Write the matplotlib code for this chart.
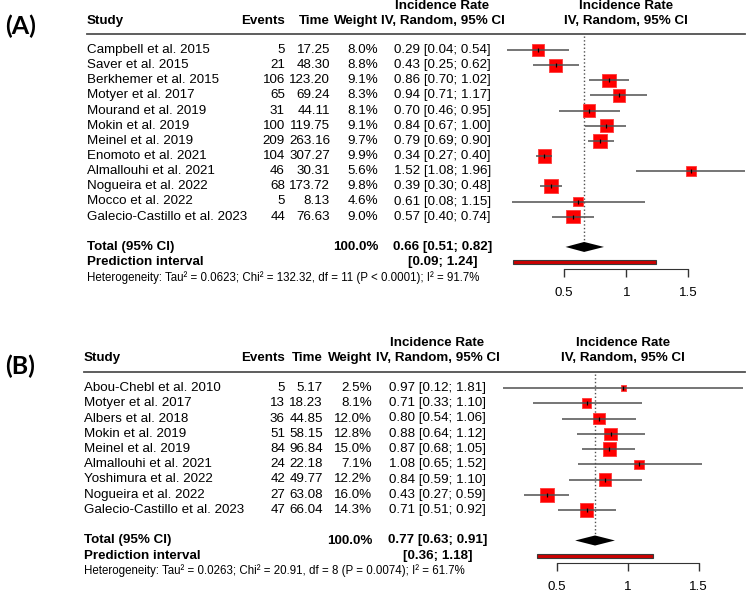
import matplotlib
matplotlib.use("Agg")
import matplotlib.pyplot as plt
import matplotlib.transforms as mtransforms
from matplotlib.lines import Line2D
from matplotlib.patches import Rectangle
import numpy as np

plt.rcParams['font.family'] = ['Liberation Sans', 'DejaVu Sans']

# Panel A data
studies_a = ["Campbell et al. 2015", "Saver et al. 2015", "Berkhemer et al. 2015",
             "Motyer et al. 2017", "Mourand et al. 2019", "Mokin et al. 2019",
             "Meinel et al. 2019", "Enomoto et al. 2021", "Almallouhi et al. 2021",
             "Nogueira et al. 2022", "Mocco et al. 2022", "Galecio-Castillo et al. 2023"]
events_a = [5, 21, 106, 65, 31, 100, 209, 104, 46, 68, 5, 44]
time_a = [17.25, 48.30, 123.20, 69.24, 44.11, 119.75, 263.16, 307.27, 30.31, 173.72, 8.13, 76.63]
weight_a = [8.0, 8.8, 9.1, 8.3, 8.1, 9.1, 9.7, 9.9, 5.6, 9.8, 4.6, 9.0]
rate_a = [0.29, 0.43, 0.86, 0.94, 0.70, 0.84, 0.79, 0.34, 1.52, 0.39, 0.61, 0.57]
lower_a = [0.04, 0.25, 0.70, 0.71, 0.46, 0.67, 0.69, 0.27, 1.08, 0.30, 0.08, 0.40]
upper_a = [0.54, 0.62, 1.02, 1.17, 0.95, 1.00, 0.90, 0.40, 1.96, 0.48, 1.15, 0.74]
total_a = [0.66, 0.51, 0.82]
pred_a = [0.09, 1.24]
het_a = "Heterogeneity: Tau² = 0.0623; Chi² = 132.32, df = 11 (P < 0.0001); I² = 91.7%"

# Panel B data
studies_b = ["Abou-Chebl et al. 2010", "Motyer et al. 2017", "Albers et al. 2018",
             "Mokin et al. 2019", "Meinel et al. 2019", "Almallouhi et al. 2021",
             "Yoshimura et al. 2022", "Nogueira et al. 2022", "Galecio-Castillo et al. 2023"]
events_b = [5, 13, 36, 51, 84, 24, 42, 27, 47]
time_b = [5.17, 18.23, 44.85, 58.15, 96.84, 22.18, 49.77, 63.08, 66.04]
weight_b = [2.5, 8.1, 12.0, 12.8, 15.0, 7.1, 12.2, 16.0, 14.3]
rate_b = [0.97, 0.71, 0.80, 0.88, 0.87, 1.08, 0.84, 0.43, 0.71]
lower_b = [0.12, 0.33, 0.54, 0.64, 0.68, 0.65, 0.59, 0.27, 0.51]
upper_b = [1.81, 1.10, 1.06, 1.12, 1.05, 1.52, 1.10, 0.59, 0.92]
total_b = [0.77, 0.63, 0.91]
pred_b = [0.36, 1.18]
het_b = "Heterogeneity: Tau² = 0.0263; Chi² = 20.91, df = 8 (P = 0.0074); I² = 61.7%"

ticks = [0.5, 1, 1.5]

W, H = 746, 592
fig = plt.figure(figsize=(W / 100, H / 100), dpi=100)


def fx(px):
    return px / W


def fy(py):
    return 1 - py / H


FS = 9.6
GRAY = '#505050'


def draw_panel(label, studies, events, times, weights, rate, lower, upper, total, pred, het, g):
    n = len(studies)
    # forest axes: x in incidence rate units, y in rows
    left = g['ax_l']
    right = 746
    ax = fig.add_axes([fx(left), fy(g['bot']), (right - left) / W, (g['bot'] - g['top']) / H])
    ax.set_xlim((left - g['x0']) / g['ppu'], (right - g['x0']) / g['ppu'])
    ax.set_ylim((g['bot'] - g['row0']) / g['step'], (g['top'] - g['row0']) / g['step'])
    ax.patch.set_alpha(0)
    for s in ['top', 'left', 'right']:
        ax.spines[s].set_visible(False)
    ax.set_yticks([])

    rows = np.arange(n)
    r_tot = n + 1
    r_pred = n + 2
    r_het = n + 3
    r_head = (g['line_y'] - g['row0']) / g['step']

    trans = mtransforms.blended_transform_factory(fig.transFigure, ax.transData)

    # panel label and headers
    fig.text(fx(5), fy(g['label_y']), label, fontsize=18, fontweight='bold',
             family=['Lato', 'DejaVu Sans'], va='center', ha='left')
    hy1, hy2 = fy(g['head1_y']), fy(g['head2_y'])
    fig.text(fx(g['study_x']), hy2, "Study", fontsize=FS, fontweight='bold', va='center')
    fig.text(fx(g['ev_x']), hy2, "Events", fontsize=FS, fontweight='bold', va='center', ha='right')
    fig.text(fx(g['time_x']), hy2, "Time", fontsize=FS, fontweight='bold', va='center', ha='right')
    fig.text(fx(g['w_x']), hy2, "Weight", fontsize=FS, fontweight='bold', va='center', ha='right')
    for cx in (g['ci_c'], g['fp_c']):
        fig.text(fx(cx), hy1, "Incidence Rate", fontsize=FS, fontweight='bold', va='center', ha='center')
        fig.text(fx(cx), hy2, "IV, Random, 95% CI", fontsize=FS, fontweight='bold', va='center', ha='center')
    fig.add_artist(Line2D([fx(g['study_x']), fx(745)], [fy(g['line_y'])] * 2,
                          transform=fig.transFigure, color=GRAY, lw=1.3))

    # study rows
    for i in range(n):
        fig_y = rows[i]
        ax.text(fx(g['study_x']), fig_y, studies[i], transform=trans, fontsize=FS, va='center')
        ax.text(fx(g['ev_x']), fig_y, str(events[i]), transform=trans, fontsize=FS, va='center', ha='right')
        ax.text(fx(g['time_x']), fig_y, f"{times[i]:.2f}", transform=trans, fontsize=FS, va='center', ha='right')
        ax.text(fx(g['w_x']), fig_y, f"{weights[i]:.1f}%", transform=trans, fontsize=FS, va='center', ha='right')
        ax.text(fx(g['ci_c']), fig_y, f"{rate[i]:.2f} [{lower[i]:.2f}; {upper[i]:.2f}]",
                transform=trans, fontsize=FS, va='center', ha='center')

    ax.text(fx(g['study_x']), r_tot, "Total (95% CI)", transform=trans, fontsize=FS, fontweight='bold', va='center')
    ax.text(fx(g['w_x']), r_tot, "100.0%", transform=trans, fontsize=FS, fontweight='bold', va='center', ha='right')
    ax.text(fx(g['ci_c']), r_tot, f"{total[0]:.2f} [{total[1]:.2f}; {total[2]:.2f}]",
            transform=trans, fontsize=FS, fontweight='bold', va='center', ha='center')
    ax.text(fx(g['study_x']), r_pred, "Prediction interval", transform=trans, fontsize=FS, fontweight='bold', va='center')
    ax.text(fx(g['ci_c']), r_pred, f"[{pred[0]:.2f}; {pred[1]:.2f}]",
            transform=trans, fontsize=FS, fontweight='bold', va='center', ha='center')
    ax.text(fx(g['study_x']), r_het, het, transform=trans, fontsize=8.3, va='center')

    # forest marks
    w = np.array(weights)
    side = 13.8 * np.sqrt(w / w.max()) * 0.72
    ax.plot([total[0], total[0]], [r_head + 0.1, r_tot - 0.33], color=GRAY, lw=1, ls=':', zorder=1)
    ax.scatter(rate, rows, s=side ** 2, marker='s', color='#ff0000', edgecolors='#ff3a3a',
               linewidths=0.6, zorder=2, clip_on=False)
    ax.hlines(rows, lower, upper, color=GRAY, lw=1.1, zorder=3, clip_on=False)
    ax.plot(rate, rows, ls='none', marker='|', color='black', ms=3, mew=0.9, zorder=4)

    h = 0.33
    ax.fill([total[1], total[0], total[2], total[0]], [r_tot, r_tot - h, r_tot, r_tot + h],
            color='black', zorder=3, lw=0)
    ax.add_patch(Rectangle((pred[0], r_pred - 0.13), pred[1] - pred[0], 0.26,
                           facecolor='#cc0000', edgecolor='#3a3a3a', lw=0.8, zorder=3))

    # axis
    ax.spines['bottom'].set_position(('data', n + 2.45))
    ax.spines['bottom'].set_bounds(ticks[0], ticks[-1])
    ax.spines['bottom'].set_color('#333333')
    ax.set_xticks(ticks)
    ax.set_xticklabels(["0.5", "1", "1.5"])
    ax.tick_params(axis='x', direction='out', length=6, width=1, color='#333333',
                   labelsize=FS, pad=7)
    return ax


geom_a = dict(top=0, bot=300, row0=50, step=15.15, x0=502.3, ppu=124, ax_l=490,
              study_x=87, ev_x=285, time_x=330, w_x=378, ci_c=442.5, fp_c=626,
              head1_y=6, head2_y=21, line_y=34, label_y=26)
geom_b = dict(top=300, bot=592, row0=388, step=15.25, x0=485.7, ppu=142, ax_l=480,
              study_x=83.5, ev_x=285, time_x=323, w_x=372, ci_c=437.5, fp_c=623,
              head1_y=343, head2_y=358, line_y=372, label_y=366)

draw_panel("(A)", studies_a, events_a, time_a, weight_a, rate_a, lower_a, upper_a,
           total_a, pred_a, het_a, geom_a)
draw_panel("(B)", studies_b, events_b, time_b, weight_b, rate_b, lower_b, upper_b,
           total_b, pred_b, het_b, geom_b)

fig.savefig("out.png", dpi=100)
